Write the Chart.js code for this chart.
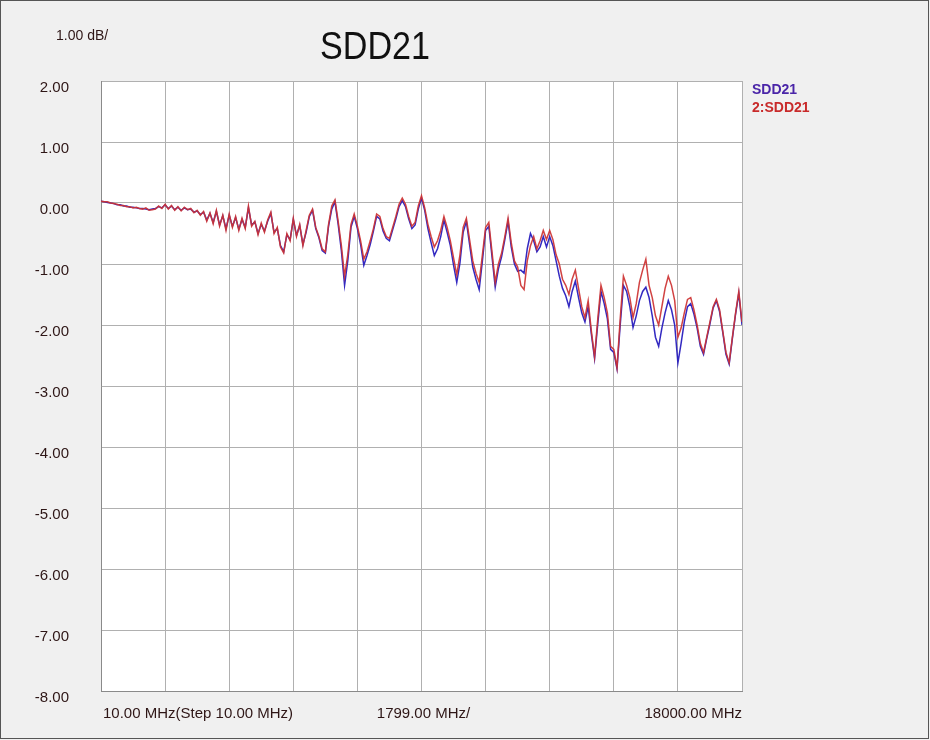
<!DOCTYPE html>
<html>
<head>
<meta charset="utf-8">
<script src="https://cdn.jsdelivr.net/npm/chart.js@4/dist/chart.umd.min.js"></script>
<style>
  html, body { margin: 0; padding: 0; background: #f0f0f0; }
  #sddChart { display: block; }
</style>
</head>
<body>
<canvas id="sddChart" width="930" height="740"></canvas>
<script>
// SWEEP: 10 MHz .. 18000 MHz, sampled every 89.95 MHz (201 points)
const startMHz = 10;
const stopMHz = 18000;
const stepMHz = 89.95;
const freqs = [];
for (let i = 0; i <= 200; i++) freqs.push(startMHz + i * stepMHz);

// dB values, 20 per division
const sdd21 = [
  0.03, 0.02, 0.01, 0.00, -0.01, -0.03, -0.03, -0.05, -0.05, -0.07, -0.07, -0.08, -0.09, -0.09, -0.10, -0.11, -0.10, -0.09, -0.06, -0.08,
  -0.03, -0.09, -0.05, -0.11, -0.07, -0.12, -0.08, -0.11, -0.10, -0.15, -0.13, -0.19, -0.15, -0.28, -0.17, -0.32, -0.14, -0.36, -0.21, -0.42,
  -0.20, -0.38, -0.24, -0.43, -0.27, -0.40, -0.08, -0.36, -0.31, -0.50, -0.35, -0.46, -0.30, -0.17, -0.48, -0.42, -0.70, -0.80, -0.52, -0.60,
  -0.27, -0.53, -0.37, -0.68, -0.48, -0.22, -0.12, -0.42, -0.57, -0.78, -0.82, -0.38, -0.10, 0.02, -0.35, -0.78, -1.35, -0.95, -0.40, -0.22,
  -0.42, -0.68, -1.02, -0.86, -0.68, -0.46, -0.22, -0.26, -0.46, -0.58, -0.62, -0.44, -0.26, -0.06, 0.04, -0.06, -0.26, -0.42, -0.36, -0.10,
  0.08, -0.12, -0.42, -0.65, -0.86, -0.75, -0.55, -0.28, -0.48, -0.70, -1.02, -1.30, -0.98, -0.48, -0.30, -0.68, -1.05, -1.25, -1.42, -0.95,
  -0.45, -0.38, -0.88, -1.38, -1.08, -0.88, -0.60, -0.30, -0.72, -1.00, -1.12, -1.10, -1.15, -0.75, -0.50, -0.62, -0.80, -0.72, -0.55, -0.72,
  -0.55, -0.70, -0.95, -1.20, -1.40, -1.52, -1.70, -1.45, -1.28, -1.55, -1.80, -1.95, -1.70, -2.15, -2.55, -1.98, -1.45, -1.65, -1.90, -2.40,
  -2.45, -2.72, -2.00, -1.35, -1.45, -1.70, -2.04, -1.85, -1.60, -1.45, -1.38, -1.55, -1.85, -2.20, -2.35, -2.05, -1.80, -1.60, -1.75, -2.00,
  -2.62, -2.30, -1.95, -1.70, -1.65, -1.82, -2.05, -2.35, -2.48, -2.22, -1.98, -1.72, -1.60, -1.78, -2.12, -2.48, -2.64, -2.22, -1.82, -1.48, -2.00
];

const sdd21Mem2 = [
  0.03, 0.02, 0.02, 0.00, -0.01, -0.02, -0.04, -0.04, -0.06, -0.06, -0.08, -0.07, -0.09, -0.10, -0.08, -0.12, -0.11, -0.10, -0.05, -0.09,
  -0.02, -0.10, -0.04, -0.12, -0.06, -0.13, -0.07, -0.11, -0.09, -0.16, -0.12, -0.20, -0.14, -0.30, -0.16, -0.34, -0.12, -0.38, -0.20, -0.45,
  -0.18, -0.40, -0.22, -0.45, -0.25, -0.42, -0.05, -0.38, -0.30, -0.52, -0.33, -0.48, -0.28, -0.15, -0.50, -0.40, -0.72, -0.82, -0.50, -0.62,
  -0.25, -0.55, -0.35, -0.70, -0.45, -0.20, -0.10, -0.40, -0.55, -0.75, -0.80, -0.35, -0.05, 0.05, -0.30, -0.70, -1.20, -0.85, -0.35, -0.18,
  -0.38, -0.62, -0.92, -0.80, -0.62, -0.42, -0.18, -0.22, -0.42, -0.55, -0.58, -0.40, -0.22, -0.02, 0.08, -0.02, -0.22, -0.38, -0.32, -0.05,
  0.12, -0.08, -0.35, -0.55, -0.72, -0.62, -0.45, -0.22, -0.40, -0.62, -0.90, -1.18, -0.85, -0.40, -0.25, -0.60, -0.95, -1.15, -1.30, -0.85,
  -0.40, -0.32, -0.80, -1.30, -1.00, -0.82, -0.55, -0.25, -0.65, -0.95, -1.05, -1.35, -1.42, -0.95, -0.70, -0.55, -0.75, -0.62, -0.45, -0.60,
  -0.45, -0.60, -0.85, -1.00, -1.25, -1.35, -1.50, -1.25, -1.10, -1.40, -1.70, -1.88, -1.60, -2.10, -2.52, -1.90, -1.35, -1.55, -1.80, -2.35,
  -2.40, -2.70, -1.90, -1.20, -1.35, -1.55, -1.88, -1.65, -1.30, -1.10, -0.92, -1.35, -1.55, -1.85, -2.00, -1.70, -1.40, -1.20, -1.35, -1.60,
  -2.20, -2.05, -1.80, -1.58, -1.55, -1.75, -2.00, -2.30, -2.45, -2.20, -1.95, -1.70, -1.58, -1.75, -2.10, -2.45, -2.62, -2.20, -1.80, -1.45, -1.95
];

const yMin = -8;
const yMax = 2;
const xDivMHz = 1799;

const scaleLabel = '1.00 dB/';
const chartTitle = 'SDD21';
const legendNames = ['SDD21', '2:SDD21'];
const xLabels = ['10.00 MHz(Step 10.00 MHz)', '1799.00 MHz/', '18000.00 MHz'];

const textColor = '#2e1616';
const blueColor = 'rgba(40, 30, 190, 0.95)';
const redColor = 'rgba(205, 50, 50, 0.92)';

const toPoints = (vals) => vals.map((v, i) => ({ x: freqs[i], y: v }));

// TEXT, BACKGROUND AND FRAME
const vnaDecor = {
  id: 'vnaDecor',
  beforeDraw(chart) {
    const c = chart.ctx;
    const a = chart.chartArea;
    c.save();
    c.fillStyle = '#f0f0f0';
    c.fillRect(0, 0, chart.width, chart.height);
    c.fillStyle = '#ffffff';
    c.fillRect(a.left, a.top, a.right - a.left, a.bottom - a.top);
    c.strokeStyle = '#555';
    c.lineWidth = 1;
    c.strokeRect(0.5, 0.5, chart.width - 2, chart.height - 2);
    c.restore();
  },
  afterDraw(chart) {
    const c = chart.ctx;
    const a = chart.chartArea;
    c.save();
    c.textBaseline = 'alphabetic';

    c.fillStyle = textColor;
    c.font = '14px "Liberation Sans", Arial, sans-serif';
    c.textAlign = 'left';
    c.fillText(scaleLabel, 56, 40);

    // title, slightly condensed
    c.save();
    c.fillStyle = '#111';
    c.font = '39px "Liberation Sans", Arial, sans-serif';
    c.textAlign = 'center';
    c.translate(375, 59);
    c.scale(0.875, 1);
    c.fillText(chartTitle, 0, 0);
    c.restore();

    // legend
    c.font = 'bold 14px "Liberation Sans", Arial, sans-serif';
    c.textAlign = 'left';
    c.fillStyle = '#4a25a8';
    c.fillText(legendNames[0], 752, 94);
    c.fillStyle = '#c82a2a';
    c.fillText(legendNames[1], 752, 112);

    // frequency labels
    c.fillStyle = textColor;
    c.font = '15px "Liberation Sans", Arial, sans-serif';
    const ly = 718;
    c.textAlign = 'left';
    c.fillText(xLabels[0], a.left + 2, ly);
    c.textAlign = 'center';
    c.fillText(xLabels[1], (a.left + a.right) / 2 + 2, ly);
    c.textAlign = 'right';
    c.fillText(xLabels[2], a.right, ly);
    c.restore();
  }
};

const sddChart = new Chart(document.getElementById('sddChart'), {
  type: 'line',
  data: {
    datasets: [{
      label: legendNames[0],
      data: toPoints(sdd21),
      borderColor: blueColor,
      borderWidth: 1.5,
      pointRadius: 0,
      tension: 0,
      order: 2,
    },
    {
      label: legendNames[1],
      data: toPoints(sdd21Mem2),
      borderColor: redColor,
      borderWidth: 1.5,
      pointRadius: 0,
      tension: 0,
      order: 1,
    }]
  },
  options: {
    responsive: false,
    animation: false,
    devicePixelRatio: 1,
    layout: {
      padding: { top: 81, right: 188, bottom: 0, left: 0 }
    },
    scales: {
      x: {
        type: 'linear',
        min: startMHz,
        max: stopMHz,
        afterBuildTicks: (scale) => {
          const t = [];
          for (let i = 0; i <= 10; i++) t.push({ value: startMHz + i * xDivMHz });
          scale.ticks = t;
        },
        afterFit: (scale) => { scale.height = 49; },
        ticks: { display: false },
        grid: { color: '#b0b0b0', lineWidth: 1, drawTicks: false },
        border: { color: '#8a8a8a', width: 1 },
      },
      y: {
        min: yMin,
        max: yMax,
        afterFit: (scale) => { scale.width = 101; },
        ticks: {
          stepSize: 1,
          padding: 32,
          labelOffset: 7,
          color: textColor,
          font: { family: '"Liberation Sans", Arial, sans-serif', size: 15 },
          callback: (v) => v.toFixed(2),
        },
        grid: { color: '#b0b0b0', lineWidth: 1, drawTicks: false },
        border: { color: '#8a8a8a', width: 1 },
      }
    },
    plugins: {
      legend: { display: false },
      tooltip: { enabled: false },
    }
  },
  plugins: [vnaDecor]
});
</script>
</body>
</html>
